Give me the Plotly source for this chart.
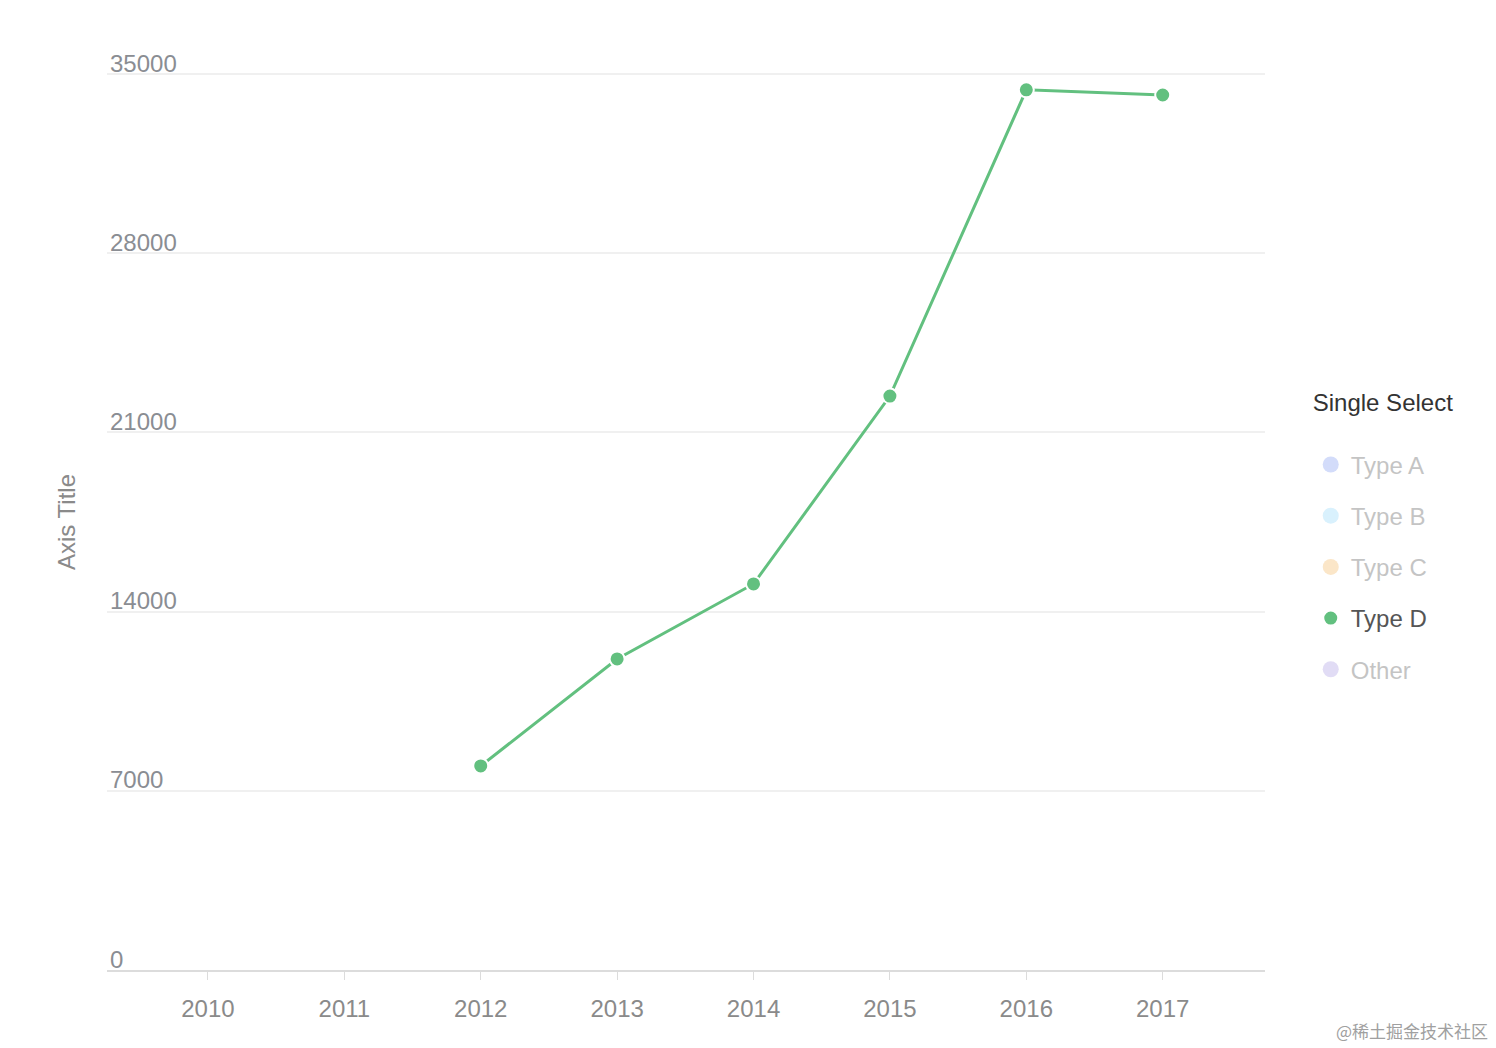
import plotly.graph_objects as go

years = ["2010", "2011", "2012", "2013", "2014", "2015", "2016", "2017"]
d_years = ["2012", "2013", "2014", "2015", "2016", "2017"]
d_values = [7970, 12150, 15080, 22420, 34380, 34180]
y_ticks = [0, 7000, 14000, 21000, 28000, 35000]

hidden_names = ["Type A", "Type B", "Type C"]
hidden_colors = ["#a7b9f5", "#b3e3fb", "#f7cd91"]
other_name = "Other"
other_color = "#c3b9eb"
d_color = "#62C07F"

FONT = "Liberation Sans, Arial, sans-serif"
faded_txt = "#8a8a8a"

fig = go.Figure()

for n, c in zip(hidden_names, hidden_colors):
    fig.add_trace(go.Scatter(
        x=[None], y=[None], mode="markers", name=f"<span style='color:{faded_txt}'>{n}</span>",
        marker=dict(color=c, size=16), visible="legendonly", legendgroup=n))

# Type D line (no legend) + markers (legend)
fig.add_trace(go.Scatter(
    x=d_years, y=d_values, mode="lines", line=dict(color=d_color, width=3),
    showlegend=False, legendgroup="Type D", hoverinfo="skip"))
fig.add_trace(go.Scatter(
    x=d_years, y=d_values, mode="markers", name="Type D", legendgroup="Type D",
    marker=dict(color=d_color, size=15, line=dict(color="white", width=2))))

fig.add_trace(go.Scatter(
    x=[None], y=[None], mode="markers", name=f"<span style='color:{faded_txt}'>{other_name}</span>",
    marker=dict(color=other_color, size=16), visible="legendonly", legendgroup=other_name))

fig.update_layout(
    width=1496, height=1048,
    margin=dict(l=107, r=231, t=42, b=78),
    paper_bgcolor="white", plot_bgcolor="white",
    font=dict(family=FONT, size=24, color="#8a8d93"),
    showlegend=True,
    legend=dict(
        title=dict(text="Single Select<br> ", font=dict(size=24, color="#333333")),
        font=dict(size=24, color="#555555"),
        x=1.0395, xanchor="left", y=0.6358, yanchor="top",
        traceorder="grouped", tracegroupgap=17,
        itemsizing="trace", itemwidth=30,
    ),
    xaxis=dict(
        type="category", categoryorder="array", categoryarray=years,
        range=[-0.74, 7.75],
        tickmode="array", tickvals=years, ticktext=years,
        showgrid=False, zeroline=False,
        showline=True, linecolor="#dcdcdc", linewidth=2,
        ticks="outside", ticklen=8, tickcolor="#dcdcdc", tickwidth=1,
        tickfont=dict(size=24, color="#8a8a8a"),
        ticklabelstandoff=8,
        fixedrange=True,
    ),
    yaxis=dict(
        range=[0, 36250],
        tickmode="array", tickvals=y_ticks, ticktext=[str(v) for v in y_ticks],
        ticklabelposition="inside top",
        ticklabeloverflow="allow",
        ticklabelshift=6,
        showgrid=True, gridcolor="#f0f0f0", gridwidth=1.5,
        zeroline=False, showline=False, ticks="",
        tickfont=dict(size=24, color="#8a8d93"),
    ),
    annotations=[
        dict(
            text="Axis Title", xref="paper", yref="paper",
            x=-0.0345, y=0.4828, xanchor="center", yanchor="middle",
            textangle=-90, showarrow=False,
            font=dict(size=24, color="#8a8a8a"),
        ),
        dict(
            text="@稀土掘金技术社区", xref="paper", yref="paper",
            x=1.1943, y=-0.0657, xanchor="right", yanchor="middle", showarrow=False,
            font=dict(family="Noto Sans CJK SC", size=17, color="#a0a0a0"),
        ),
    ],
)

fig.write_html("out.html", config={"displayModeBar": False},
               post_script="document.body.style.margin='0';document.body.style.overflow='hidden';")
